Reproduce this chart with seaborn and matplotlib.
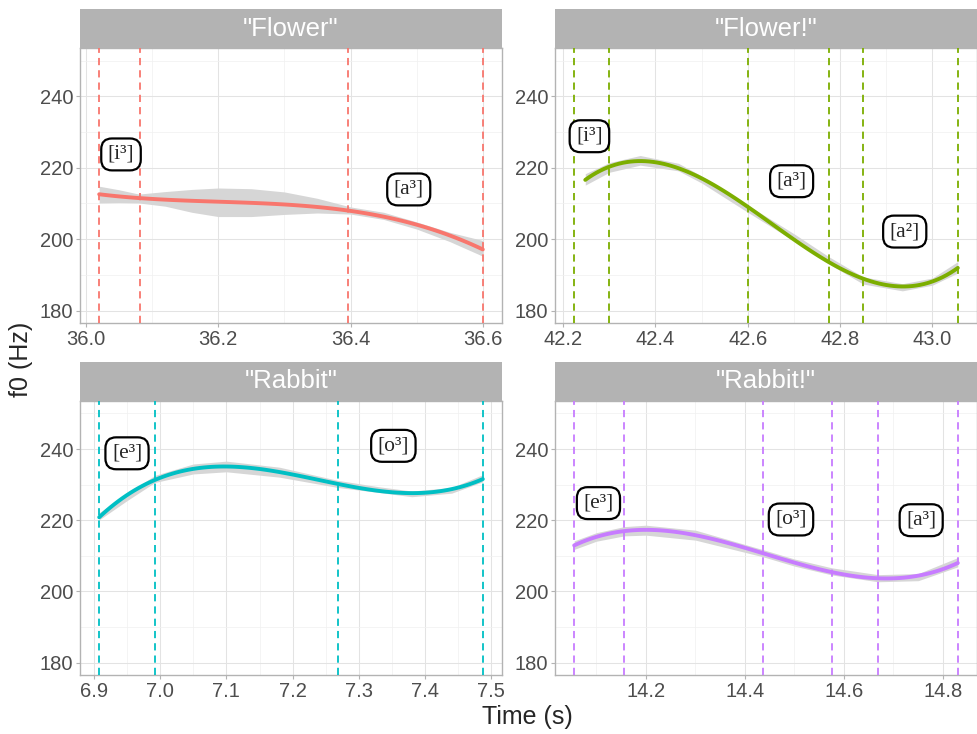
import matplotlib
matplotlib.use("Agg")
import matplotlib.pyplot as plt
from matplotlib.ticker import MultipleLocator
import seaborn as sns

sns.set_theme(style="whitegrid")
plt.rcParams["font.family"] = ["Liberation Sans", "DejaVu Sans"]

## panel titles and colours (ggplot default hues)
words = ['"Flower"', '"Flower!"', '"Rabbit"', '"Rabbit!"']
colors = ["#F8766D", "#7CAE00", "#00BFC4", "#C77CFF"]
x_steps = [0.2, 0.2, 0.1, 0.2]

## segment boundaries (s)
flower_bounds = [36.02, 36.082, 36.396, 36.60]
flower2_bounds = [42.224, 42.30, 42.60, 42.775, 42.85, 43.055]
rabbit_bounds = [6.908, 6.992, 7.268, 7.487]
rabbit2_bounds = [14.055, 14.156, 14.437, 14.576, 14.669, 14.83]

## smoothed f0 contour (+ band above / below)
flower_t = [36.02, 36.05, 36.08, 36.12, 36.16, 36.2, 36.25, 36.3, 36.35, 36.4, 36.45, 36.5, 36.55, 36.6]
flower_f0 = [212.6, 212.0, 211.4, 211.0, 210.7, 210.4, 210.1, 209.7, 209.1, 208.0, 206.5, 203.8, 200.6, 197.4]
flower_up = [2.2, 1.8, 1.2, 2.3, 3.2, 3.9, 4.0, 3.5, 2.3, 1.0, 1.0, 1.0, 1.3, 2.2]
flower_dn = [2.5, 1.8, 1.3, 1.8, 3.2, 4.1, 3.8, 2.8, 1.8, 1.0, 1.0, 1.0, 1.3, 2.2]

flower2_t = [42.248, 42.3, 42.367, 42.45, 42.5, 42.6, 42.7, 42.775, 42.85, 42.935, 43.0, 43.055]
flower2_f0 = [216.7, 220.0, 222.0, 220.1, 216.7, 208.5, 200.5, 194.1, 188.4, 186.5, 188.1, 192.1]
flower2_up = [1.6, 1.4, 1.4, 1.1, 1.0, 1.0, 1.0, 1.0, 1.0, 1.0, 1.0, 1.6]
flower2_dn = [1.6, 1.3, 1.3, 1.0, 1.0, 1.0, 1.0, 1.0, 1.0, 1.0, 1.0, 1.6]

rabbit_t = [6.908, 6.95, 6.992, 7.05, 7.1, 7.18, 7.268, 7.33, 7.38, 7.44, 7.487]
rabbit_f0 = [221.1, 226.5, 231.6, 234.4, 235.1, 233.5, 230.2, 228.6, 227.4, 228.4, 231.8]
rabbit_up = [1.0, 1.0, 1.0, 1.4, 1.5, 1.4, 1.0, 0.8, 0.8, 0.8, 1.0]
rabbit_dn = [1.0, 1.0, 1.0, 1.4, 1.5, 1.4, 1.0, 0.8, 0.8, 0.8, 1.0]

rabbit2_t = [14.055, 14.1, 14.156, 14.2, 14.3, 14.437, 14.5, 14.576, 14.669, 14.75, 14.83]
rabbit2_f0 = [213.0, 215.3, 216.9, 217.2, 215.8, 210.7, 208.1, 205.6, 203.7, 204.0, 208.2]
rabbit2_up = [1.2, 1.2, 1.3, 1.4, 1.4, 1.0, 1.0, 1.0, 1.0, 1.0, 1.3]
rabbit2_dn = [1.2, 1.2, 1.3, 1.4, 1.4, 1.0, 1.0, 1.0, 1.0, 1.0, 1.3]

## syllable labels
flower_labels = ["[i³]", "[a³]"]
flower_lab_t = [36.053, 36.488]
flower_lab_f0 = [223.7, 213.9]

flower2_labels = ["[i³]", "[a³]", "[a²]"]
flower2_lab_t = [42.257, 42.695, 42.94]
flower2_lab_f0 = [228.8, 216.2, 202.1]

rabbit_labels = ["[e³]", "[o³]"]
rabbit_lab_t = [6.95, 7.352]
rabbit_lab_f0 = [238.8, 240.9]

rabbit2_labels = ["[e³]", "[o³]", "[a³]"]
rabbit2_lab_t = [14.104, 14.493, 14.756]
rabbit2_lab_f0 = [224.8, 220.2, 220.0]

panels = [
    (flower_bounds, flower_t, flower_f0, flower_up, flower_dn, flower_labels, flower_lab_t, flower_lab_f0),
    (flower2_bounds, flower2_t, flower2_f0, flower2_up, flower2_dn, flower2_labels, flower2_lab_t, flower2_lab_f0),
    (rabbit_bounds, rabbit_t, rabbit_f0, rabbit_up, rabbit_dn, rabbit_labels, rabbit_lab_t, rabbit_lab_f0),
    (rabbit2_bounds, rabbit2_t, rabbit2_f0, rabbit2_up, rabbit2_dn, rabbit2_labels, rabbit2_lab_t, rabbit2_lab_f0),
]

W, H = 977, 734
fig = plt.figure(figsize=(W / 100, H / 100), dpi=100)

## panel boxes in pixels: left, top, right, bottom
boxes = [(80, 48, 502, 323), (555, 48, 977, 323),
         (80, 401, 502, 675), (555, 401, 977, 675)]
strip_h = 39

for i, (bounds, t, f0, up, dn, labs, lt, lf) in enumerate(panels):
    l, tp, r, b = boxes[i]
    ax = fig.add_axes([l / W, 1 - b / H, (r - l) / W, (b - tp) / H])
    col = colors[i]

    lo = [y - c for y, c in zip(f0, dn)]
    hi = [y + c for y, c in zip(f0, up)]
    ax.fill_between(t, lo, hi, color="#D6D6D6", lw=0, zorder=2)

    for xb in bounds:
        ax.axvline(xb, color=col, ls=(0, (4, 2.8)), lw=1.3, zorder=3)

    sns.regplot(x=t, y=f0, order=3, scatter=False, ci=None, truncate=True,
                color=col, line_kws={"lw": 2.8, "zorder": 4}, ax=ax)

    for s, x, y in zip(labs, lt, lf):
        ax.text(x, y, s, ha="center", va="center", fontsize=15.5,
                family=["Liberation Serif", "DejaVu Serif"], zorder=6,
                bbox=dict(boxstyle="round,pad=0.3,rounding_size=0.5",
                          fc="white", ec="black", lw=1.6))

    rng = max(bounds) - min(bounds)
    ax.set_xlim(min(bounds) - 0.05 * rng, max(bounds) + 0.05 * rng)
    ax.set_ylim(176.5, 253.5)
    ax.xaxis.set_major_locator(MultipleLocator(x_steps[i]))
    ax.xaxis.set_minor_locator(MultipleLocator(x_steps[i] / 2))
    ax.yaxis.set_major_locator(MultipleLocator(20))
    ax.yaxis.set_minor_locator(MultipleLocator(10))
    ax.set_yticks([180, 200, 220, 240])
    ax.grid(which="major", color="#E3E3E3", lw=0.75)
    ax.grid(which="minor", color="#F0F0F0", lw=0.5)
    ax.set_axisbelow(True)
    ax.tick_params(which="major", length=3, width=0.8, color="#B3B3B3",
                   labelsize=14.5, labelcolor="#4D4D4D", pad=2,
                   bottom=True, left=True)
    ax.tick_params(which="minor", length=0)
    for sp in ax.spines.values():
        sp.set_color("#B3B3B3")
        sp.set_linewidth(1.0)
    ax.set_xlabel("")
    ax.set_ylabel("")

    ## facet strip
    sax = fig.add_axes([l / W, 1 - tp / H, (r - l) / W, strip_h / H])
    sax.set_facecolor("#B3B3B3")
    sax.set_xticks([])
    sax.set_yticks([])
    for sp in sax.spines.values():
        sp.set_visible(False)
    sax.text(0.5, 0.5, words[i], ha="center", va="center", color="white",
             fontsize=18.5, transform=sax.transAxes)

fig.text(0.021, 0.51, "f0 (Hz)", rotation=90, ha="center", va="center", fontsize=18)
fig.text(0.54, 0.023, "Time (s)", ha="center", va="center", fontsize=18)

fig.savefig("out.png", dpi=100)
